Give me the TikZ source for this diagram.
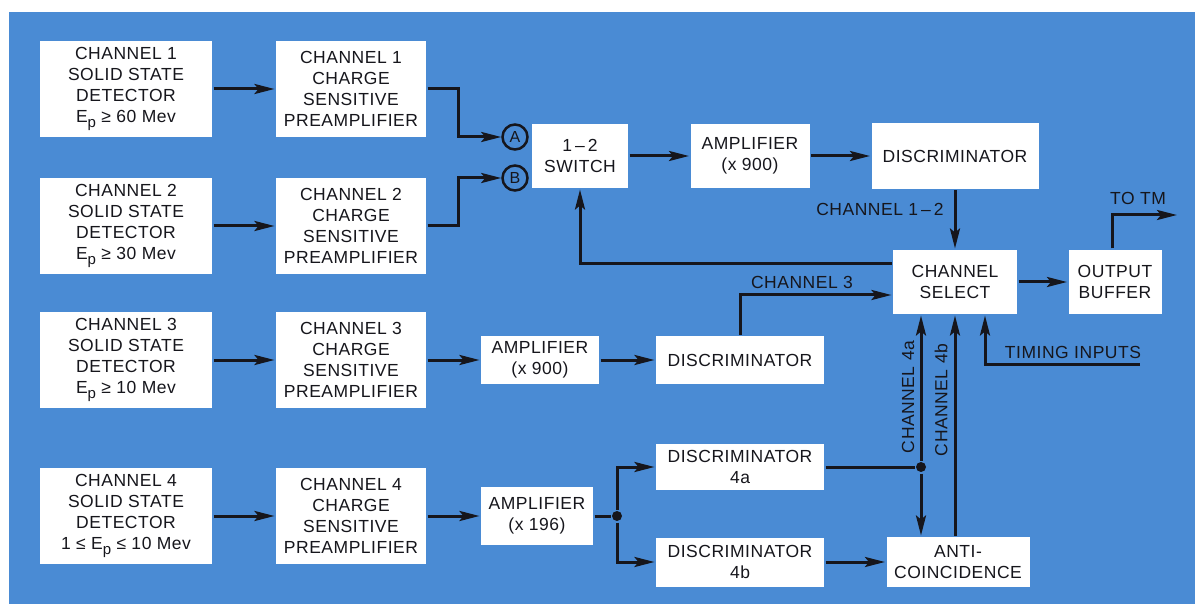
\documentclass[tikz,border=0pt]{standalone}
\usepackage{fontspec}
\setmainfont[LetterSpace=3]{Liberation Sans}
\usetikzlibrary{arrows.meta}
\definecolor{panelblue}{RGB}{74,139,212}
\definecolor{ink}{RGB}{22,22,28}
\newcommand{\Ep}{E\raisebox{-0.45ex}{\fontsize{15}{15}\selectfont p}}
\begin{document}
\begin{tikzpicture}[x=1pt, y=-1pt,
                    line width=3pt,
                    draw=ink,
                    >={Stealth[length=20pt,width=10pt,inset=4pt]},
                    font=\fontsize{17.5}{21}\selectfont,
                    ]
    \tikzstyle{block}=[fill=white, text=ink, align=center, inner sep=2pt]
    \tikzstyle{detector}=[block, minimum width=172pt, minimum height=96pt]
    \tikzstyle{preamp}=[block, minimum width=150pt, minimum height=96pt]
    \tikzstyle{port}=[circle, draw=ink, line width=2.5pt, text=ink, minimum size=25pt, inner sep=0pt, font=\fontsize{16}{16}\selectfont]
    \tikzstyle{dot}=[circle, fill=ink, minimum size=10pt, inner sep=0pt]
    \tikzstyle{tag}=[text=ink, inner sep=1pt]

    \useasboundingbox (0,0) rectangle (1195,604);
    \fill[white] (0,0) rectangle (1195,604);
    \fill[panelblue] (9,12) rectangle (1195,604);

    % detectors and preamplifiers
    \node[detector] (det1) at (126,89) {CHANNEL 1\\SOLID STATE\\DETECTOR\\\Ep{} ≥ 60 Mev};
    \node[preamp] (pre1) at (351,89) {CHANNEL 1\\CHARGE\\SENSITIVE\\PREAMPLIFIER};
    \node[detector] (det2) at (126,226) {CHANNEL 2\\SOLID STATE\\DETECTOR\\\Ep{} ≥ 30 Mev};
    \node[preamp] (pre2) at (351,226) {CHANNEL 2\\CHARGE\\SENSITIVE\\PREAMPLIFIER};
    \node[detector] (det3) at (126,360) {CHANNEL 3\\SOLID STATE\\DETECTOR\\\Ep{} ≥ 10 Mev};
    \node[preamp] (pre3) at (351,360) {CHANNEL 3\\CHARGE\\SENSITIVE\\PREAMPLIFIER};
    \node[detector] (det4) at (126,516) {CHANNEL 4\\SOLID STATE\\DETECTOR\\1 ≤ \Ep{} ≤ 10 Mev};
    \node[preamp] (pre4) at (351,516) {CHANNEL 4\\CHARGE\\SENSITIVE\\PREAMPLIFIER};

    % channel 1-2 chain
    \node[port] (A) at (515,137) {A};
    \node[port] (B) at (515,178) {B};
    \node[block, minimum width=96pt, minimum height=64pt] (switch) at (580,156) {1\,–\,2\\SWITCH};
    \node[block, minimum width=119pt, minimum height=64pt] (amp1) at (750,156) {AMPLIFIER\\(x 900)};
    \node[block, minimum width=167pt, minimum height=66pt] (disc1) at (955,156) {DISCRIMINATOR};
    \node[block, minimum width=124pt, minimum height=64pt] (cs) at (955,282) {CHANNEL\\SELECT};
    \node[block, minimum width=93pt, minimum height=64pt] (ob) at (1115,282) {OUTPUT\\BUFFER};

    % channel 3 and 4 chains
    \node[block, minimum width=118pt, minimum height=48pt] (amp3) at (540,360) {AMPLIFIER\\(x 900)};
    \node[block, minimum width=168pt, minimum height=48pt] (disc3) at (740,360) {DISCRIMINATOR};
    \node[block, minimum width=112pt, minimum height=58pt] (amp4) at (537,516) {AMPLIFIER\\(x 196)};
    \node[block, minimum width=168pt, minimum height=46pt] (disc4a) at (740,467) {DISCRIMINATOR\\4a};
    \node[block, minimum width=168pt, minimum height=49pt] (disc4b) at (740,562) {DISCRIMINATOR\\4b};
    \node[block, minimum width=143pt, minimum height=50pt] (anti) at (958,562) {ANTI-\\COINCIDENCE};

    \node[dot] (j4) at (617,516) {};
    \node[dot] (j4a) at (921,467) {};
    \coordinate (tm) at (1177,215);
    \coordinate (timing) at (1140,364);

    \draw[->] (det1) -- (pre1);
    \draw[->] (det2) -- (pre2);
    \draw[->] (det3) -- (pre3);
    \draw[->] (det4) -- (pre4);
    \draw[->] (pre1.east) -- ++(31,0) |- (A);
    \draw[->] (pre2.east) -- ++(31,0) |- (B);
    \draw[->] (switch) -- (amp1);
    \draw[->] (amp1) -- (disc1);
    \draw[->] (disc1) -- (cs);
    \draw[->] (cs) -- (ob);
    \draw[->] ([xshift=-3pt]ob.north) |- (tm);
    \draw[->] ([yshift=18pt]cs.west) -| (switch.south);
    \draw[->] (pre3) -- (amp3);
    \draw[->] (amp3) -- (disc3);
    \draw[->] (disc3.north) |- ([yshift=-13pt]cs.west);
    \draw[->] (timing) -| ([xshift=30pt]cs.south);
    \draw[->] (pre4) -- (amp4);
    \draw (amp4) -- (j4);
    \draw[->] (j4) |- (disc4a);
    \draw[->] (j4) |- (disc4b);
    \draw (disc4a) -- (j4a);
    \draw[->] (j4a) -- (j4a |- cs.south);
    \draw[->] (j4a) -- (j4a |- anti.north);
    \draw[->] (cs.south |- anti.north) -- (cs.south);
    \draw[->] (disc4b) -- (anti);

    % connector labels
    \node[tag, anchor=east] (lab12) at (946,209) {CHANNEL 1\,–\,2};
    \node[tag] (lab3) at (802,282) {CHANNEL 3};
    \node[tag] (labtm) at (1138,198) {TO TM};
    \node[tag] (labtiming) at (1073,352) {TIMING INPUTS};
    \node[tag, rotate=90] (lab4a) at (908,397) {CHANNEL 4a};
    \node[tag, rotate=90] (lab4b) at (941,400) {CHANNEL 4b};
\end{tikzpicture}
\end{document}
